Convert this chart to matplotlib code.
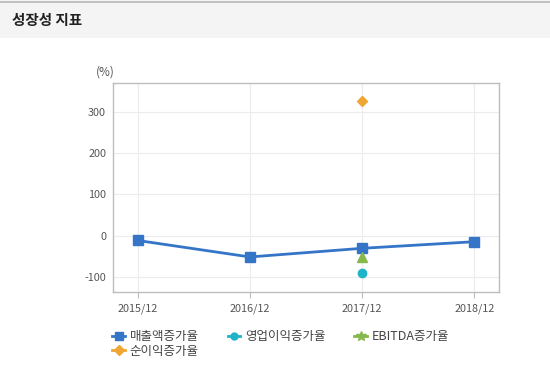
import numpy as np
import matplotlib.pyplot as plt
from matplotlib.patches import Rectangle
from matplotlib.lines import Line2D

plt.rcParams['font.family'] = ['Noto Sans CJK KR', 'DejaVu Sans']
plt.rcParams['axes.unicode_minus'] = False

periods = ["2015/12", "2016/12", "2017/12", "2018/12"]
sales_growth = [-12, -52, -31, -15]
op_profit_growth = [np.nan, np.nan, -92, np.nan]
ebitda_growth = [np.nan, np.nan, -53, np.nan]
net_profit_growth = [np.nan, np.nan, 327, np.nan]
y_ticks = [-100, 0, 100, 200, 300]

W, H = 550, 374
fig = plt.figure(figsize=(W / 100, H / 100), dpi=100)
fig.patch.set_facecolor("white")

# header band
fig.patches.append(Rectangle((0, 1 - 38 / H), 1, 38 / H, transform=fig.transFigure,
                             facecolor="#f4f4f4", edgecolor="none", zorder=0))
fig.add_artist(Line2D([0, 1], [1 - 1.5 / H, 1 - 1.5 / H], transform=fig.transFigure,
                      color="#b8b8b8", lw=1.2))
fig.text(12 / W, 1 - 20 / H, "성장성 지표", fontsize=10.5, fontweight="bold",
         color="#222222", va="center", ha="left")

ax = fig.add_axes([113 / W, 1 - 292 / H, (499 - 113) / W, (292 - 83) / H])
x = np.arange(len(periods))

ax.plot(x, sales_growth, color="#3575c8", lw=2, marker="s", ms=6.5, zorder=3)
ax.plot(x, op_profit_growth, color="#1fb3c9", lw=2, marker="o", ms=6, zorder=3)
ax.plot(x, ebitda_growth, color="#86b84c", lw=2, marker="^", ms=7, zorder=3)
ax.plot(x, net_profit_growth, color="#f0a635", lw=2, marker="D", ms=5.5, zorder=3)

ax.set_xlim(-0.22, 3.22)
ax.set_ylim(-137, 370)
ax.set_xticks(x)
ax.set_xticklabels(periods)
ax.set_yticks(y_ticks)
ax.grid(color="#ececec", lw=0.8)
ax.set_axisbelow(True)
for s in ax.spines.values():
    s.set_color("#bdbdbd")
    s.set_linewidth(1)
ax.tick_params(axis="both", colors="#bdbdbd", labelcolor="#555555", labelsize=7.8, length=0)
ax.tick_params(axis="x", pad=4, length=4, direction="out")
ax.tick_params(axis="y", pad=5)

fig.text(96 / W, 1 - 72 / H, "(%)", fontsize=8.5, color="#555555", va="center", ha="left")

handles = [
    Line2D([], [], color="#3575c8", lw=2, marker="s", ms=6),
    Line2D([], [], color="#f0a635", lw=2, marker="D", ms=5),
    Line2D([], [], color="#1fb3c9", lw=2, marker="o", ms=5),
    Line2D([], [], color="#86b84c", lw=2, marker="*", ms=7),
]
labels = ["매출액증가율", "순이익증가율", "영업이익증가율", "EBITDA증가율"]
fig.legend(handles, labels, ncol=3, loc="upper left",
           bbox_to_anchor=(106 / W, 1 - 324 / H), frameon=False,
           fontsize=9, handlelength=1.0, handletextpad=0.4,
           columnspacing=2.3, labelspacing=0.1, borderpad=0, labelcolor="#444444")

fig.savefig("out.png", dpi=100, facecolor="white")
